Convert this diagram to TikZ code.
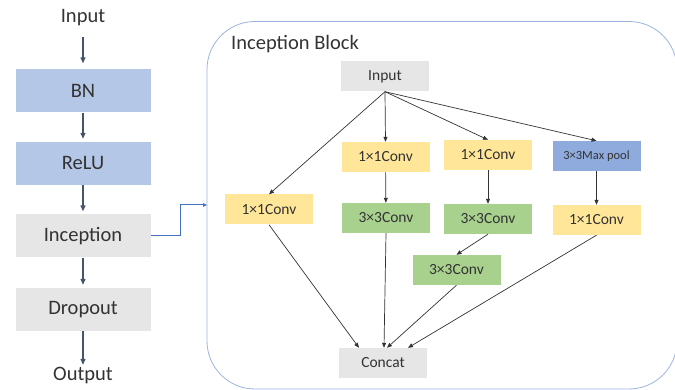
\documentclass[tikz,border=0pt]{standalone}
\usepackage{fontspec}
\setmainfont{Carlito}
\usetikzlibrary{arrows.meta,calc}
\definecolor{txt}{HTML}{333333}
\definecolor{bluebox}{HTML}{B4C7E7}
\definecolor{greybox}{HTML}{E7E6E6}
\definecolor{yellowbox}{HTML}{FFE699}
\definecolor{greenbox}{HTML}{A9D18E}
\definecolor{poolbox}{HTML}{8FAADC}
\definecolor{flowline}{HTML}{44546A}
\definecolor{linkblue}{HTML}{4472C4}
\definecolor{frame}{HTML}{9DB3DE}
\tikzset{
  bigbox/.style={minimum width=135pt, minimum height=43pt, inner sep=0pt, text=txt,
                 font=\fontsize{20.5}{22}\selectfont},
  bigtext/.style={inner sep=0pt, text height=14pt, text depth=4pt, text=txt,
                  font=\fontsize{20.5}{22}\selectfont},
  smallbox/.style={minimum width=88pt, minimum height=30pt, inner sep=0pt, text=txt,
                   font=\fontsize{15.5}{17}\selectfont},
  flow/.style={draw=flowline, line width=1.3pt, -{Triangle[length=6pt,width=5pt]}},
  link/.style={draw=black!80, line width=0.7pt, -{Triangle[length=5pt,width=4pt]}},
}
\begin{document}
\begin{tikzpicture}[x=1pt,y=-1pt]
\useasboundingbox (0,0) rectangle (675,390);

% main layer sequence
\node[bigtext] (in) at (83,18) {Input};
\node[bigbox, fill=bluebox] (bn) at (83,91) {BN};
\node[bigbox, fill=bluebox] (relu) at (83,163.5) {ReLU};
\node[bigbox, fill=greybox] (inc) at (83,236) {Inception};
\node[bigbox, fill=greybox] (drop) at (83,309.5) {Dropout};
\node[bigtext] (out) at (83,375) {Output};

\draw[flow, shorten <=10pt, shorten >=6pt] (in) -- (bn);
\draw[flow, shorten >=3pt] (bn) -- (relu);
\draw[flow, shorten >=3pt] (relu) -- (inc);
\draw[flow, shorten >=3pt] (inc) -- (drop);
\draw[flow, shorten >=1pt] (drop) -- (out);

% inception block frame
\draw[frame, line width=0.8pt, rounded corners=48pt] (207,21.5) rectangle (677,389);
\node[anchor=west, inner sep=0pt, text=txt, font=\fontsize{20.5}{22}\selectfont] (title) at (231,44) {Inception Block};
\coordinate (blockin) at (207,205);
\draw[linkblue, line width=1pt, -{Triangle[length=4pt,width=3.5pt]}] (inc.east) -| (180,205) -- (blockin);

% inception block contents
\node[smallbox, fill=greybox] (inp) at (385,76.5) {Input};
\node[smallbox, fill=yellowbox] (a1) at (269,209.5) {1×1Conv};
\node[smallbox, fill=yellowbox] (b1) at (385.5,157) {1×1Conv};
\node[smallbox, fill=greenbox] (b2) at (386,218) {3×3Conv};
\node[smallbox, fill=yellowbox] (c1) at (488,155) {1×1Conv};
\node[smallbox, fill=greenbox] (c2) at (488,219) {3×3Conv};
\node[smallbox, fill=greenbox] (c3) at (456.5,270) {3×3Conv};
\node[smallbox, fill=poolbox, font=\fontsize{12.5}{14}\selectfont] (d1) at (596.5,156) {3×3Max pool};
\node[smallbox, fill=yellowbox] (d2) at (596.5,220) {1×1Conv};
\node[smallbox, fill=greybox] (cat) at (383,363) {Concat};

\draw[link] (inp.south) -- (a1.north);
\draw[link] (inp.south) -- (b1.north);
\draw[link] (inp.south) -- (c1.north);
\draw[link] (inp.south) -- (d1.north);
\draw[link] (b1) -- (b2);
\draw[link] (c1) -- (c2);
\draw[link] (d1) -- (d2);
\draw[link] (c2.south) -- (c3.north);
\draw[link] (a1.south) -- ($(cat.north)+(-24,0)$);
\draw[link] (b2.south) -- ($(cat.north)+(1,0)$);
\draw[link] (c3.south) -- ($(cat.north)+(4,0)$);
\draw[link] (d2.south) -- ($(cat.north)+(25,0)$);
\end{tikzpicture}
\end{document}
